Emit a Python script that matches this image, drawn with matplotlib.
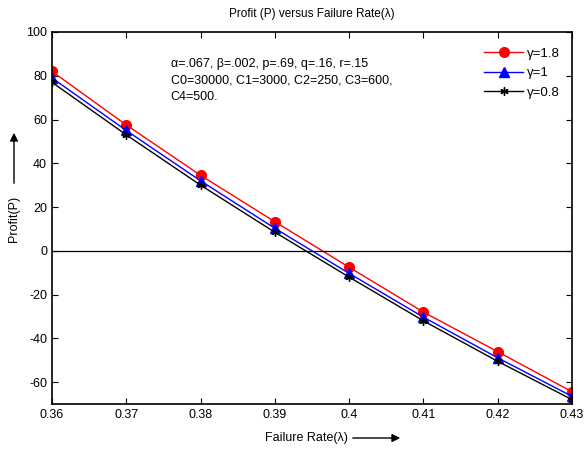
import matplotlib
matplotlib.use("Agg")
from matplotlib import pyplot as plt

plt.rcParams['font.family'] = ['Liberation Sans', 'DejaVu Sans']
plt.rcParams['axes.unicode_minus'] = False

# failure rate (lambda) and profit for three gamma values
rate = [0.36, 0.37, 0.38, 0.39, 0.40, 0.41, 0.42, 0.43]
profit_g18 = [82.0, 57.5, 34.5, 13.3, -7.5, -28.0, -46.1, -64.4]
profit_g1 = [79.0, 55.0, 32.0, 10.3, -10.3, -30.3, -48.9, -66.5]
profit_g08 = [77.0, 53.0, 30.0, 8.5, -12.0, -32.0, -50.5, -68.0]
labels = ['γ=1.8', 'γ=1', 'γ=0.8']

fig = plt.figure(figsize=(5.84, 4.5), dpi=100)
ax = fig.add_axes([52/584, 1 - 404/450, 520/584, 372/450])

ax.plot(rate, profit_g18, color='red', marker='o', ms=7, lw=1, label=labels[0])
ax.plot(rate, profit_g1, color='blue', marker='^', ms=7, lw=1, label=labels[1])
ax.plot(rate, profit_g08, color='black', marker=(6, 2, 0), ms=6, lw=1, label=labels[2])
ax.axhline(0, color='black', lw=0.9)

ax.set_xlim(0.36, 0.43)
ax.set_ylim(-70, 100)
ax.set_xticks(rate)
ax.set_xticklabels(['0.36', '0.37', '0.38', '0.39', '0.4', '0.41', '0.42', '0.43'])
ax.set_yticks(range(-60, 101, 20))
ax.tick_params(direction='in', top=True, right=True, labelsize=9, length=4, width=0.8)
for s in ax.spines.values():
    s.set_linewidth(1.2)

ax.set_title('Profit (P) versus Failure Rate(λ)', fontsize=8.5, pad=11)

ax.text(0.3760, 78, 'α=.067, β=.002, p=.69, q=.16, r=.15\nC0=30000, C1=3000, C2=250, C3=600,\nC4=500.',
        fontsize=9, va='center', ha='left', linespacing=1.5)

leg = ax.legend(loc='upper right', frameon=False, fontsize=9.5, handlelength=3.0,
                handletextpad=0.3, labelspacing=0.55, bbox_to_anchor=(1.0, 0.99))

# axis labels with arrows
fig.text(306/584, 1 - 438/450, 'Failure Rate(λ)', fontsize=9, ha='center', va='center')
fig.add_artist(matplotlib.patches.FancyArrowPatch((350/584, 1 - 438/450), (403/584, 1 - 438/450),
               transform=fig.transFigure, arrowstyle='-|>', mutation_scale=12, color='black', lw=1))
fig.text(14/584, 1 - 219/450, 'Profit(P)', fontsize=9, ha='center', va='center', rotation=90)
fig.add_artist(matplotlib.patches.FancyArrowPatch((14/584, 1 - 186/450), (14/584, 1 - 130/450),
               transform=fig.transFigure, arrowstyle='-|>', mutation_scale=12, color='black', lw=1))

fig.savefig('out.png', dpi=100)
